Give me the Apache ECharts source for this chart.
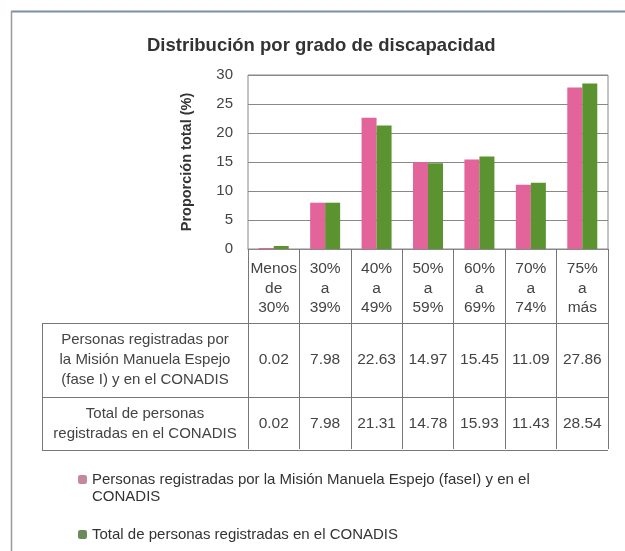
<!DOCTYPE html>
<html>
<head>
<meta charset="utf-8">
<script src="https://cdn.jsdelivr.net/npm/echarts@6/dist/echarts.min.js"></script>
<style>
  html, body { margin: 0; padding: 0; background: #fff; }
  #chart { width: 625px; height: 551px; }
</style>
</head>
<body>
<div id="chart"></div>
<script>
const categories = ['Menos\nde\n30%', '30%\na\n39%', '40%\na\n49%', '50%\na\n59%', '60%\na\n69%', '70%\na\n74%', '75%\na\nmás']
const misionValues = [0.02, 7.98, 22.63, 14.97, 15.45, 11.09, 27.86]
const conadisValues = [0.02, 7.98, 21.31, 14.78, 15.93, 11.43, 28.54]
const rowLabels = ['Personas registradas por\nla Misión Manuela Espejo\n(fase I) y en el CONADIS', 'Total de personas\nregistradas en el CONADIS']
const seriesNames = ['Personas registradas por la Misión Manuela Espejo (faseI) y en el\nCONADIS', 'Total de personas registradas en el CONADIS']
const yTicks = [0, 5, 10, 15, 20, 25, 30]

const font = '"Liberation Sans", Arial, sans-serif'
const pink = '#e2649a'
const green = '#5b9330'

const chart = echarts.init(document.getElementById('chart'))

const option = {
  animation: false,
  backgroundColor: '#fff',
  textStyle: { fontFamily: font },
  title: {
    text: 'Distribución por grado de discapacidad',
    left: 142,
    top: 31,
    textStyle: { fontSize: 18.5, fontWeight: 'bold', color: '#333', fontFamily: font }
  },
  grid: { left: 248, right: 17, top: 75, height: 174, show: true, borderColor: '#888', borderWidth: 1 },
  legend: [
    {
      data: [{ name: seriesNames[0], itemStyle: { color: '#c6879e' } }],
      formatter: name => name.split('\n')[0],
      left: 73, top: 467, itemWidth: 9, itemHeight: 9,
      textStyle: { fontSize: 15, color: '#333' }
    },
    {
      data: [{ name: seriesNames[1], itemStyle: { color: '#6a8a5c' } }],
      left: 73, top: 522, itemWidth: 9, itemHeight: 9,
      textStyle: { fontSize: 15, color: '#333' }
    }
  ],
  xAxis: {
    type: 'category',
    data: categories,
    axisLine: { lineStyle: { color: '#888' } },
    axisTick: { show: true, length: 200, lineStyle: { color: '#777' } },
    axisLabel: { interval: 0, fontSize: 15.5, color: '#444', lineHeight: 19.5, margin: 10 }
  },
  yAxis: {
    type: 'value',
    min: yTicks[0],
    max: yTicks[yTicks.length - 1],
    interval: 5,
    name: 'Proporción total (%)',
    nameLocation: 'middle',
    nameGap: 54,
    nameTextStyle: { fontSize: 14.5, fontWeight: 'bold', color: '#333' },
    axisLine: { show: false },
    axisTick: { show: false },
    axisLabel: { fontSize: 15, color: '#444', margin: 15 },
    splitLine: { lineStyle: { color: '#888' } }
  },
  series: [
    { name: seriesNames[0], type: 'bar', data: misionValues, barWidth: 15, barGap: '0%', barMinHeight: 1, itemStyle: { color: pink } },
    { name: seriesNames[1], type: 'bar', data: conadisValues, barWidth: 15, barMinHeight: 3, itemStyle: { color: green } }
  ]
}

chart.setOption(option)

// table below the chart, positioned from the x axis scale
const lineColor = '#777'
const tableLeft = 42, tableRight = 608
const rowTops = [323, 397, 450]
const graphics = [
  { type: 'line', shape: { x1: 11, y1: 11.5, x2: 625, y2: 11.5 }, style: { stroke: '#7d8f9f', lineWidth: 2 } },
  { type: 'line', shape: { x1: 11.5, y1: 11, x2: 11.5, y2: 551 }, style: { stroke: '#9a9a9a', lineWidth: 1.5 } },
  { type: 'line', shape: { x1: tableLeft + 0.5, y1: rowTops[0], x2: tableLeft + 0.5, y2: rowTops[2] }, style: { stroke: lineColor } }
]
rowTops.forEach(y => {
  graphics.push({ type: 'line', shape: { x1: tableLeft, y1: y + 0.5, x2: tableRight, y2: y + 0.5 }, style: { stroke: lineColor } })
})
const rows = [misionValues, conadisValues]
rows.forEach((vals, r) => {
  const cy = (rowTops[r] + rowTops[r + 1]) / 2
  graphics.push({
    type: 'text', x: 145, y: cy,
    style: { text: rowLabels[r], font: '15px ' + font, fill: '#444', align: 'center', verticalAlign: 'middle', lineHeight: 20 }
  })
  vals.forEach((v, i) => {
    const x = chart.convertToPixel({ xAxisIndex: 0 }, i)
    graphics.push({
      type: 'text', x: x, y: cy,
      style: { text: v.toFixed(2), font: '15.5px ' + font, fill: '#444', align: 'center', verticalAlign: 'middle' }
    })
  })
})
// continuation lines of the first legend entry
graphics.push({
  type: 'text', x: 92, y: 497,
  style: { text: seriesNames[0].split('\n').slice(1).join('\n'), font: '15px ' + font, fill: '#333', verticalAlign: 'middle' }
})
chart.setOption({ graphic: graphics })
</script>
</body>
</html>
